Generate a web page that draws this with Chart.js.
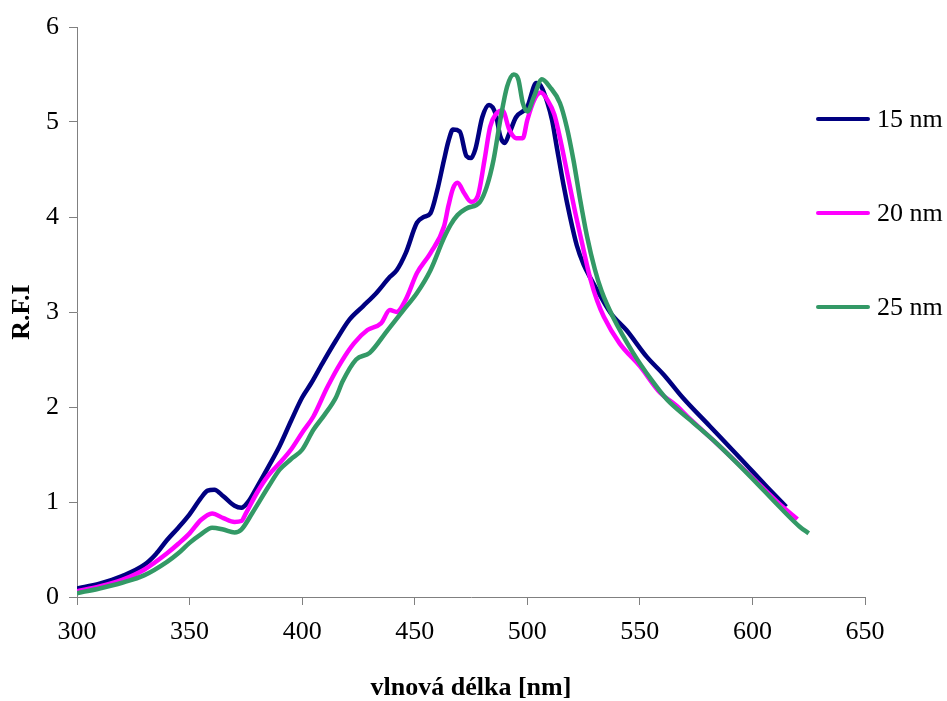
<!DOCTYPE html>
<html>
<head>
<meta charset="utf-8">
<script src="https://cdn.jsdelivr.net/npm/chart.js@4/dist/chart.umd.min.js"></script>
<style>
  html, body { margin: 0; padding: 0; background: #fff; }
  #wrap { width: 947px; height: 701px; }
</style>
</head>
<body>
<div id="wrap"><canvas id="graf" width="947" height="701"></canvas></div>
<script>
// serie 15 nm
var vlna15 = [300, 310, 320, 330, 335, 340, 345, 350, 355, 358, 361, 365, 370, 373, 376, 380, 385, 390, 395, 400, 404, 409, 415, 421, 427, 433, 439, 442, 446, 451, 454, 457, 460, 463, 465, 467, 470, 473, 475, 477, 480, 483, 486, 488, 490, 492, 495, 500, 504, 506, 509, 511, 513, 516, 519, 522, 525, 528, 531, 537, 544, 553, 561, 569, 581, 595, 606, 615];
var rfi15 = [0.09, 0.14, 0.22, 0.34, 0.45, 0.60, 0.73, 0.87, 1.04, 1.12, 1.13, 1.06, 0.96, 0.94, 1.00, 1.16, 1.37, 1.59, 1.85, 2.10, 2.25, 2.46, 2.70, 2.92, 3.06, 3.20, 3.37, 3.44, 3.62, 3.94, 4.00, 4.04, 4.28, 4.60, 4.80, 4.92, 4.90, 4.64, 4.62, 4.72, 5.05, 5.18, 5.08, 4.85, 4.78, 4.88, 5.05, 5.16, 5.41, 5.38, 5.20, 5.02, 4.75, 4.35, 4.00, 3.70, 3.50, 3.36, 3.23, 2.99, 2.81, 2.53, 2.33, 2.10, 1.80, 1.45, 1.17, 0.95];

// serie 20 nm
var vlna20 = [300, 310, 320, 330, 340, 345, 350, 355, 360, 365, 370, 373, 375, 380, 385, 390, 395, 400, 405, 411, 417, 423, 429, 435, 439, 442, 446, 451, 457, 463, 465, 467, 469, 472, 475, 478, 481, 483.5, 486, 489, 492, 495, 498, 500, 503, 506, 509, 512, 515, 518, 521, 524, 528, 531, 534, 541, 550, 559, 566, 572, 584, 599, 612, 620];
var rfi20 = [0.06, 0.11, 0.18, 0.29, 0.46, 0.56, 0.67, 0.81, 0.88, 0.83, 0.79, 0.80, 0.88, 1.10, 1.28, 1.41, 1.55, 1.73, 1.90, 2.20, 2.46, 2.67, 2.81, 2.88, 3.02, 3.00, 3.13, 3.41, 3.62, 3.90, 4.12, 4.30, 4.36, 4.25, 4.16, 4.22, 4.60, 4.95, 5.08, 5.12, 4.92, 4.83, 4.83, 5.02, 5.23, 5.31, 5.23, 5.08, 4.78, 4.43, 4.08, 3.76, 3.35, 3.12, 2.95, 2.67, 2.43, 2.15, 2.02, 1.88, 1.62, 1.28, 0.98, 0.82];

// serie 25 nm
var vlna25 = [300, 310, 320, 330, 340, 345, 350, 355, 360, 365, 370, 373, 378, 385, 390, 395, 400, 405, 410, 415, 418, 424, 430, 438, 445, 451, 457, 463, 466, 469, 473, 479, 482, 485, 488, 491, 494, 496, 498, 500, 503, 506.5, 510, 514.5, 517.5, 520.5, 523.5, 526.5, 530, 533, 538, 547, 555, 562, 572, 584, 599, 612, 621, 625];
var rfi25 = [0.04, 0.09, 0.15, 0.23, 0.37, 0.46, 0.57, 0.66, 0.73, 0.71, 0.68, 0.71, 0.89, 1.16, 1.34, 1.45, 1.55, 1.76, 1.92, 2.10, 2.27, 2.50, 2.57, 2.81, 3.02, 3.20, 3.44, 3.78, 3.92, 4.02, 4.09, 4.16, 4.32, 4.60, 5.02, 5.37, 5.50, 5.45, 5.20, 5.11, 5.27, 5.45, 5.37, 5.20, 4.95, 4.60, 4.18, 3.80, 3.45, 3.22, 2.95, 2.57, 2.29, 2.08, 1.87, 1.62, 1.27, 0.95, 0.74, 0.67];

var popisky = ['15 nm', '20 nm', '25 nm'];
var barvy = ['#000080', '#FF00FF', '#339966'];

var pismo = 'Liberation Serif, Times New Roman, serif';

function body(xs, ys) {
  var out = [];
  for (var i = 0; i < xs.length; i++) out.push({ x: xs[i], y: ys[i] });
  return out;
}

// legenda vpravo, kreslena rucne (Excel ji ma pres plochu grafu)
var legendaPlugin = {
  id: 'legendaExcel',
  afterDraw: function(chart) {
    var ctx = chart.ctx;
    var radky = [119, 213, 307];
    ctx.save();
    chart.data.datasets.forEach(function(ds, i) {
      ctx.strokeStyle = ds.borderColor;
      ctx.lineWidth = 4;
      ctx.lineCap = 'round';
      ctx.beginPath();
      ctx.moveTo(818, radky[i]);
      ctx.lineTo(868, radky[i]);
      ctx.stroke();
      ctx.fillStyle = '#000';
      ctx.font = '26px ' + pismo;
      ctx.textBaseline = 'middle';
      ctx.fillText(ds.label, 877, radky[i] + 1);
    });
    ctx.restore();
  }
};

var spolecne = { borderWidth: 4.5, pointRadius: 0, cubicInterpolationMode: 'monotone' };

var ctx = document.getElementById('graf').getContext('2d');
var graf = new Chart(ctx, {
  type: 'line',
  data: {
    datasets: [
      Object.assign({ label: popisky[0], data: body(vlna15, rfi15), borderColor: barvy[0], order: 3 }, spolecne),
      Object.assign({ label: popisky[1], data: body(vlna20, rfi20), borderColor: barvy[1], order: 2 }, spolecne),
      Object.assign({ label: popisky[2], data: body(vlna25, rfi25), borderColor: barvy[2], order: 1 }, spolecne)
    ]
  },
  options: {
    responsive: false,
    animation: false,
    layout: { padding: { left: 0, right: 82, top: 27, bottom: 0 } },
    plugins: { legend: { display: false }, tooltip: { enabled: false } },
    scales: {
      x: {
        type: 'linear',
        min: 300,
        max: 650,
        ticks: { stepSize: 50, color: '#000', padding: 12, maxRotation: 0, font: { family: pismo, size: 26 } },
        grid: { drawOnChartArea: false, drawTicks: true, tickLength: 8, color: '#808080' },
        border: { color: '#808080', width: 1 },
        title: { display: true, text: 'vlnová délka [nm]', color: '#000', padding: { top: 0, bottom: 0 }, font: { family: pismo, size: 26, weight: 'bold', lineHeight: 1 } },
        afterFit: function(s) { s.height = 104; }
      },
      y: {
        min: 0,
        max: 6,
        ticks: { stepSize: 1, color: '#000', padding: 10, font: { family: pismo, size: 26 } },
        grid: { drawOnChartArea: false, drawTicks: true, tickLength: 8, color: '#808080' },
        border: { color: '#808080', width: 1 },
        title: { display: true, text: 'R.F.I', color: '#000', padding: { top: 9, bottom: 0 }, font: { family: pismo, size: 26, weight: 'bold', lineHeight: 1 } },
        afterFit: function(s) { s.width = 77; }
      }
    }
  },
  plugins: [legendaPlugin]
});
</script>
</body>
</html>
